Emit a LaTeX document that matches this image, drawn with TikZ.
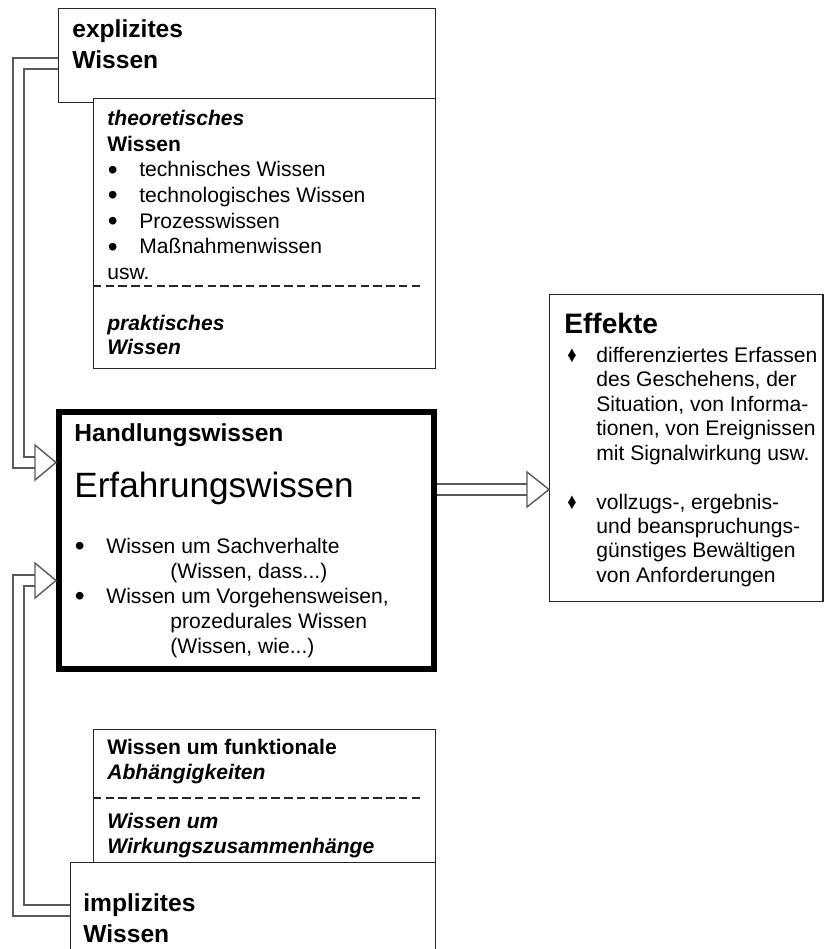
\documentclass[tikz,border=0pt]{standalone}
\usepackage{fontspec}
\usepackage{graphicx}
\setmainfont{Liberation Sans}
\usetikzlibrary{calc}
\definecolor{rand}{HTML}{262626}
\definecolor{pfeil}{HTML}{5A5A5A}
\newcommand{\pkt}{\makebox[0.64cm][l]{\hspace{0.01cm}\raisebox{-1.3pt}{\fontsize{16}{12}\selectfont\textbullet}}}
\newcommand{\raute}{\makebox[0.62cm][l]{\hspace{0.04cm}\raisebox{0pt}{\scalebox{0.8}[1]{\fontsize{13}{13}\selectfont ♦}}}}
\tikzset{
  kasten/.style={rectangle, draw=rand, fill=white, line width=0.8pt, inner sep=0pt, anchor=north west},
  dickkasten/.style={kasten, draw=black, line width=0.12cm},
  titel/.style={anchor=base west, align=left, inner sep=0pt, font=\fontsize{14}{17.4}\selectfont\bfseries},
  fliess/.style={anchor=base west, align=left, inner sep=0pt, font=\fontsize{12}{14.6}\selectfont},
  trenn/.style={draw=rand, line width=0.9pt, dash pattern=on 0.17cm off 0.085cm},
  doppel/.style={draw=pfeil, line width=0.8pt, double=white, double distance=0.19cm},
  spitze/.style={draw=pfeil, fill=white, line width=0.8pt, line join=miter}
}

\begin{document}
\begin{tikzpicture}[x=0.02cm, y=-0.02cm]
  \useasboundingbox (0,0) rectangle (824,949);
  \clip (0,0) rectangle (824,949);
  % explizites Wissen (Textknoten sitzen auf der letzten Grundlinie)
  \node (expl) [kasten, minimum width=7.54cm, minimum height=1.88cm] at (58,8) {};
  \node (expltxt) [titel] at ($(expl.north west)+(14,60.2)$) {explizites\\Wissen};
  \node (theo) [kasten, minimum width=6.84cm, minimum height=5.4cm] at (93,98) {};
  \node (theotxt) [fliess] at ($(theo.north west)+(14,181.5)$)
    {\textbf{\textit{theoretisches}}\\\textbf{Wissen}\\\pkt technisches Wissen\\\pkt technologisches Wissen\\\pkt Prozesswissen\\\pkt Maßnahmenwissen\\usw.};
  \draw [trenn] ($(theo.north west)+(0,188)$) -- ++(330,0);
  \node (praktxt) [fliess, font=\fontsize{12}{14}\selectfont\bfseries\itshape] at ($(theo.north west)+(14,256.7)$) {praktisches\\Wissen};
  % Handlungswissen
  \node (handl) [dickkasten, minimum width=7.5cm, minimum height=5.14cm] at (56,409) {};
  \node (handltit) [titel] at ($(handl.north west)+(18,32.7)$) {Handlungswissen};
  \node (erf) [fliess, font=\fontsize{20}{24}\selectfont] at ($(handl.north west)+(18,88)$) {Erfahrungswissen};
  \node (handlpkt) [fliess, font=\fontsize{12}{14.2}\selectfont] at ($(handl.north west)+(18,244.5)$)
    {\pkt Wissen um Sachverhalte\\\hspace*{1.92cm}(Wissen, dass...)\\\pkt Wissen um Vorgehensweisen,\\\hspace*{1.92cm}prozedurales Wissen\\\hspace*{1.92cm}(Wissen, wie...)};
  % Effekte
  \node (eff) [kasten, minimum width=5.47cm, minimum height=6.14cm] at (549,294) {};
  \node (efftit) [titel, font=\fontsize{16}{19}\selectfont\bfseries] at ($(eff.north west)+(15,39.3)$) {Effekte};
  \node (effpkt) [fliess, font=\fontsize{12}{13.9}\selectfont] at ($(eff.north west)+(16,288.4)$)
    {\raute differenziertes Erfassen\\\hspace*{0.62cm}des Geschehens, der\\\hspace*{0.62cm}Situation, von Informa-\\\hspace*{0.62cm}tionen, von Ereignissen\\\hspace*{0.62cm}mit Signalwirkung usw.\\[0.49cm]\raute vollzugs-, ergebnis-\\\hspace*{0.62cm}und beanspruchungs-\\\hspace*{0.62cm}günstiges Bewältigen\\\hspace*{0.62cm}von Anforderungen};
  % implizites Wissen
  \node (funk) [kasten, minimum width=6.84cm, minimum height=3.2cm] at (93,729) {};
  \node (funktxt) [fliess, font=\fontsize{12}{14.2}\selectfont\bfseries] at ($(funk.north west)+(14,50)$) {Wissen um funktionale\\\textit{Abhängigkeiten}};
  \draw [trenn] ($(funk.north west)+(0,69)$) -- ++(330,0);
  \node (wirktxt) [fliess, font=\fontsize{12}{14.2}\selectfont\bfseries\itshape] at ($(funk.north west)+(14,124.3)$) {Wissen um\\Wirkungszusammenhänge};
  \node (impl) [kasten, minimum width=7.3cm, minimum height=2.4cm] at (70,862) {};
  \node (impltxt) [titel] at ($(impl.north west)+(13,80.5)$) {implizites\\Wissen};
  % Pfeile
  \coordinate (t1) at ($(handl.north west)+(0,53.5)$);
  \coordinate (t2) at ($(handl.north west)+(0,171.5)$);
  \coordinate (t3) at ($(eff.north west)+(0,195.5)$);
  \draw [doppel, shorten >=0.42cm] ($(expl.north west)+(0,55.5)$) -- ++(-39.5,0) |- (t1);
  \draw [spitze] (t1) -- ++(-21,-17.5) -- ++(0,35) -- cycle;
  \draw [doppel, shorten >=0.42cm] ($(impl.north west)+(0,48.5)$) -- ++(-51.5,0) |- (t2);
  \draw [spitze] (t2) -- ++(-21,-17.5) -- ++(0,35) -- cycle;
  \draw [doppel, shorten >=0.44cm] (handl.east |- t3) -- (t3);
  \draw [spitze] (t3) -- ++(-22,-17.5) -- ++(0,35) -- cycle;
\end{tikzpicture}
\end{document}
